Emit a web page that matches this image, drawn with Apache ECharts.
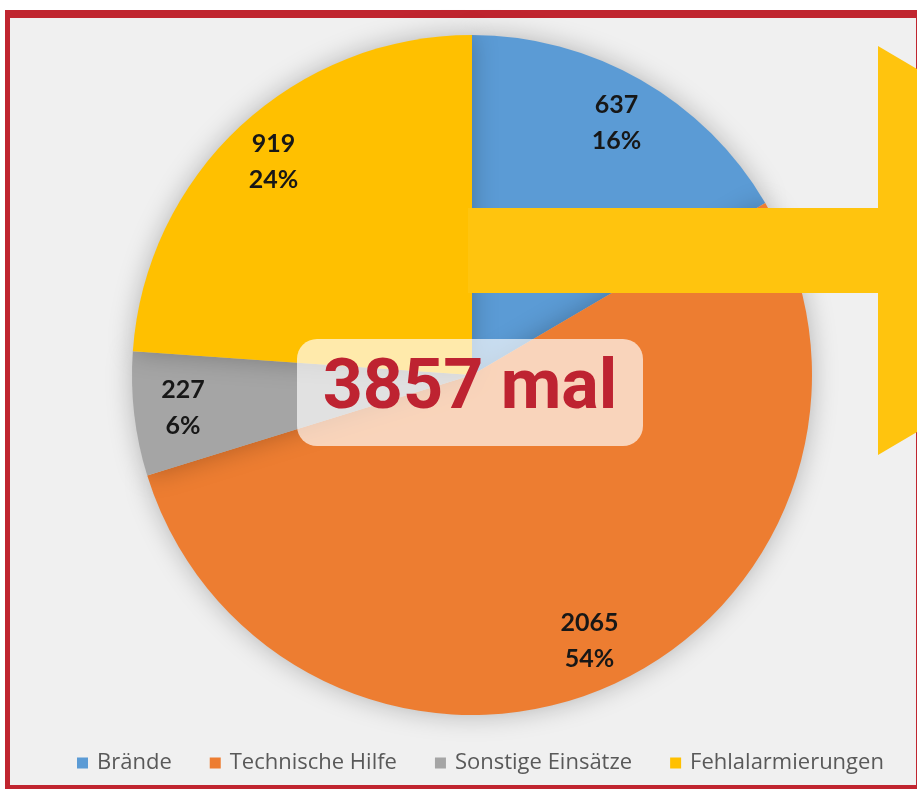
<!DOCTYPE html>
<html>
<head>
<meta charset="utf-8">
<title>Einsätze</title>
<script src="https://cdn.jsdelivr.net/npm/echarts@6/dist/echarts.min.js"></script>
<style>
  html, body { margin: 0; padding: 0; background: #fff; }
  #main { width: 917px; height: 789px; }
</style>
</head>
<body>
<div id="main"></div>
<script>
// Daten
var categories = ['Brände', 'Technische Hilfe', 'Sonstige Einsätze', 'Fehlalarmierungen'];
var values = [637, 2065, 227, 919];
var colors = ['#5B9BD5', '#ED7D31', '#A5A5A5', '#FFC000'];
var totalLabel = '3857 mal';

var pieData = categories.map(function (name, i) {
  return { name: name, value: values[i] };
});

var myChart = echarts.init(document.getElementById('main'));

myChart.setOption({
  backgroundColor: '#ffffff',
  color: colors,
  animation: false,
  legend: {
    top: 747,
    left: 72,
    itemWidth: 11,
    itemHeight: 11,
    itemGap: 38,
    icon: 'rect',
    data: categories,
    textStyle: {
      fontFamily: 'Open Sans',
      fontSize: 22,
      color: '#595959',
      padding: [0, 0, 0, 4]
    }
  },
  series: [{
    // Kreissegmente
    type: 'pie',
    center: [472, 375],
    radius: 340,
    startAngle: 90,
    clockwise: true,
    label: { show: false },
    labelLine: { show: false },
    itemStyle: {
      shadowBlur: 26,
      shadowColor: 'rgba(0,0,0,0.25)'
    },
    emphasis: { disabled: true },
    data: pieData
  }, {
    // nur Beschriftungen (weiter aussen als Standard)
    type: 'pie',
    center: [472, 375],
    radius: [236, 340],
    startAngle: 90,
    clockwise: true,
    silent: true,
    percentPrecision: 0,
    itemStyle: { color: 'transparent' },
    labelLine: { show: false },
    label: {
      show: true,
      position: 'inside',
      formatter: function (p) { return p.value + '\n' + p.percent + '%'; },
      fontFamily: 'Lato',
      fontWeight: 'bold',
      fontSize: 25,
      lineHeight: 36,
      color: '#171717'
    },
    emphasis: { disabled: true },
    data: pieData
  }],
  graphic: [
    {
      type: 'rect', z: -20, silent: true,
      shape: { x: 5, y: 10, width: 920, height: 785 },
      style: { fill: '#C0252F' }
    },
    {
      type: 'rect', z: -19, silent: true,
      shape: { x: 10, y: 18, width: 906, height: 767 },
      style: { fill: '#f0f0f0' }
    },
    {
      // Pfeil
      type: 'polygon', z: 50, silent: true,
      shape: {
        points: [[468, 208], [878, 208], [878, 46], [1225, 250], [878, 455], [878, 293], [468, 293]]
      },
      style: { fill: '#FFC40E' }
    },
    {
      type: 'rect', z: 60, silent: true,
      shape: { x: 297, y: 339, width: 346, height: 107, r: 20 },
      style: { fill: 'rgba(255,255,255,0.67)' }
    },
    {
      type: 'text', z: 61, silent: true,
      x: 470, y: 390,
      style: {
        text: totalLabel,
        font: 'bold 70px Roboto',
        fill: '#BE2331',
        textAlign: 'center',
        textVerticalAlign: 'middle'
      }
    }
  ]
});
</script>
</body>
</html>
